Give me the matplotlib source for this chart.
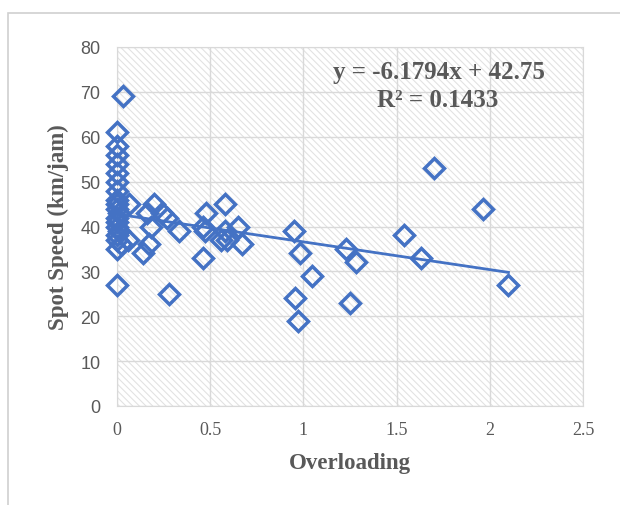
#!/usr/bin/env python

import matplotlib
matplotlib.use('Agg')
import matplotlib.pyplot as plt
from matplotlib.patches import Rectangle
import numpy as np

# overloading vs spot speed
overloading = [0, 0, 0, 0, 0, 0, 0, 0, 0, 0, 0, 0, 0, 0, 0, 0, 0,
               0.01, 0.01, 0.02, 0.03,
               0.066, 0.06, 0.14, 0.17, 0.16, 0.20, 0.18, 0.24, 0.27, 0.28, 0.33,
               0.48, 0.46, 0.47, 0.46, 0.58, 0.58, 0.56, 0.59, 0.65, 0.67,
               0.95, 0.98, 1.045, 0.955, 0.97, 1.23, 1.28, 1.25,
               1.54, 1.63, 1.70, 1.965, 2.10]
speed = [61, 58, 56, 54, 52, 50, 48, 46, 45, 44, 42, 41, 40, 38, 37, 35, 27,
         43, 39, 36, 69,
         45, 37, 34, 36, 43, 45, 40, 43, 42, 25, 39,
         43, 40, 39, 33, 45, 39, 37, 37, 40, 36,
         39, 34, 29, 24, 19, 35, 32, 23,
         38, 33, 53, 44, 27]

slope = -6.1794
intercept = 42.75
r2 = 0.1433

blue = '#4472c4'
gray_txt = '#595959'
grid_c = '#d9d9d9'

plt.rcParams['hatch.linewidth'] = 0.8

fig = plt.figure(figsize=(6.2, 5.06), dpi=100)
# outer chart frame
fig.patches.append(Rectangle((8 / 620, -0.1), 1.2, 1 - 14 / 506 + 0.1, transform=fig.transFigure,
                             fill=False, edgecolor='#d0d0d0', linewidth=1.2))

ax = fig.add_axes([117 / 620, 1 - 407 / 506, (583 - 117) / 620, (407 - 48) / 506])

# hatched plot area
ax.add_patch(Rectangle((0, 0), 1, 1, transform=ax.transAxes, facecolor='white',
                       edgecolor='#e2e2e2', hatch='\\\\\\\\\\', linewidth=0, zorder=0))

ax.set_xlim(0, 2.5)
ax.set_ylim(0, 80)
ax.set_xticks(np.arange(0, 2.51, 0.5))
ax.set_yticks(np.arange(0, 81, 10))
ax.set_xticklabels(['0', '0.5', '1', '1.5', '2', '2.5'], family='Liberation Serif', fontsize=13, color=gray_txt)
ax.set_yticklabels([str(v) for v in range(0, 81, 10)], family='Liberation Sans', fontsize=13, color=gray_txt)
ax.tick_params(length=0, pad=12)
ax.tick_params(axis='x', pad=11)
ax.grid(True, color=grid_c, linewidth=1.0, zorder=1)
ax.set_axisbelow(True)
for sp in ax.spines.values():
    sp.set_color(grid_c)

ax.plot(overloading, speed, ls='none', marker='D', markersize=10, markerfacecolor='none',
        markeredgecolor=blue, markeredgewidth=2.5, zorder=3, clip_on=False)

xt = np.array([0, 2.1])
ax.plot(xt, slope * xt + intercept, color=blue, linewidth=2, zorder=2)

ax.text(0.691, 0.933, "y = %.4fx + %.2f" % (slope, intercept), transform=ax.transAxes,
        ha='center', va='center', family='Liberation Serif', fontweight='bold', fontsize=18, color=gray_txt)
ax.text(0.687, 0.855, "R\u00b2 = %.4f" % r2, transform=ax.transAxes,
        ha='center', va='center', family='Liberation Serif', fontweight='bold', fontsize=18, color=gray_txt)

ax.set_xlabel("Overloading", family='Liberation Serif', fontweight='bold', fontsize=16.5,
              color=gray_txt, labelpad=10)
ax.set_ylabel("Spot Speed (km/jam)", family='Liberation Serif', fontweight='bold', fontsize=16.5,
              color=gray_txt, labelpad=8)

plt.savefig('out.png', dpi=100)
